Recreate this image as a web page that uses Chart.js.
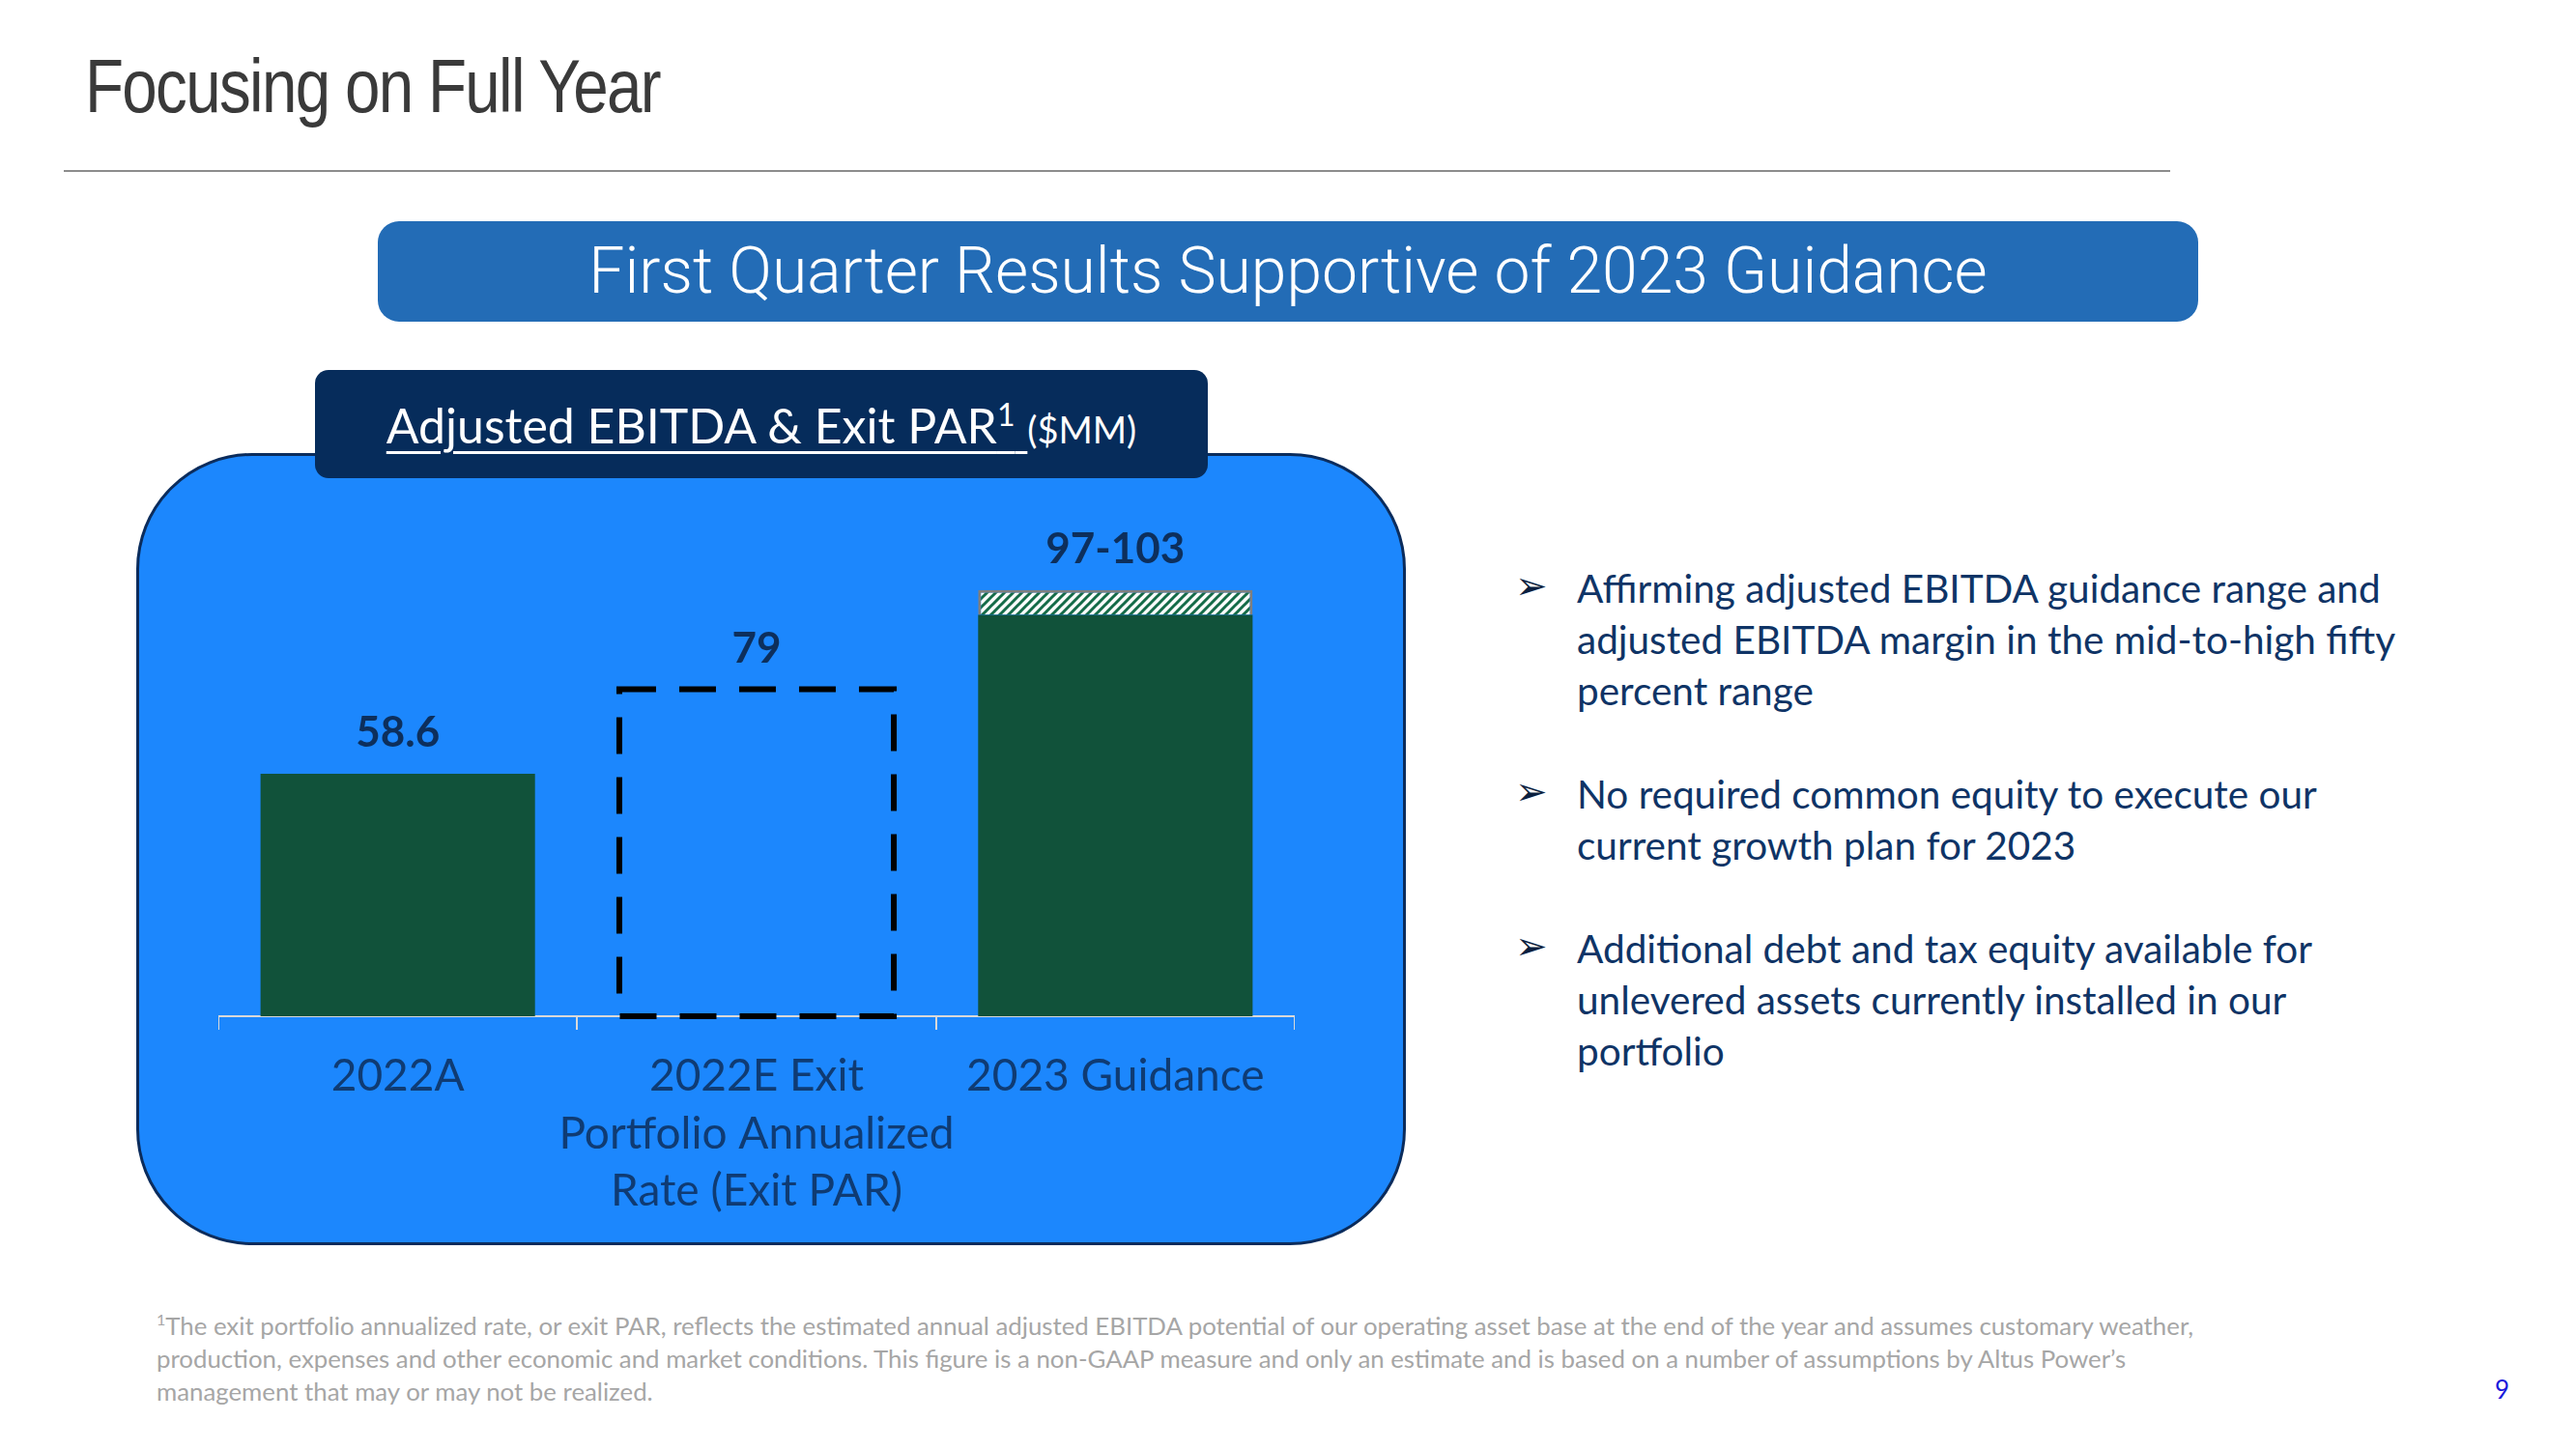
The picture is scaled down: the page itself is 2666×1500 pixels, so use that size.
<!DOCTYPE html>
<html>
<head>
<meta charset="utf-8">
<title>Focusing on Full Year</title>
<script src="https://cdn.jsdelivr.net/npm/chart.js@4.4.1/dist/chart.umd.min.js"></script>
<style>
  body { margin: 0; width: 2666px; height: 1500px; background: #fff; position: relative; overflow: hidden; font-family: Lato, "Open Sans", sans-serif; }
  .titre { position: absolute; left: 88px; top: 44px; font-family: "Liberation Sans Narrow", "Liberation Sans", sans-serif; font-size: 78px; color: #3a3a3a; letter-spacing: -2px; transform: scaleX(0.84); transform-origin: left top; white-space: nowrap; }
  .filet { position: absolute; left: 66px; top: 176px; width: 2180px; height: 2px; background: #8c8c8c; }
  .bandeau { position: absolute; left: 391px; top: 229px; width: 1884px; height: 104px; background: #236cb6; border-radius: 22px; color: #fff; font-family: Roboto, sans-serif; font-weight: 300; font-size: 66px; line-height: 104px; text-align: center; }
  .cadre { position: absolute; left: 141px; top: 469px; width: 1308px; height: 814px; background: #1c87fd; border: 3px solid #0b2c5c; border-radius: 120px; }
  .onglet { position: absolute; left: 326px; top: 383px; width: 924px; height: 112px; background: #062c5b; border-radius: 14px; color: #fff; font-size: 50px; line-height: 92px; text-align: center; }
  .onglet u { text-decoration-thickness: 3px; text-underline-offset: 8px; }
  .onglet sup { font-size: 32px; }
  .onglet small { font-size: 38px; }
  #zone { position: absolute; left: 226px; top: 500px; width: 1114px; height: 782px; }
  .puces { position: absolute; left: 1580px; top: 582px; color: #0f3466; font-size: 40.5px; line-height: 53px; }
  .puce { position: relative; padding-left: 52px; margin-bottom: 54px; }
  .puce span { position: absolute; left: -12px; top: -2px; font-family: "DejaVu Sans", sans-serif; font-size: 40px; font-weight: bold; color: #0b1f3f; }
  .note { position: absolute; left: 162px; top: 1349px; color: #a6a6a6; font-size: 25.8px; line-height: 34px; white-space: nowrap; }
  .note sup { font-size: 16px; }
  .page { position: absolute; left: 2582px; top: 1422px; color: #1a1adb; font-size: 26px; }
</style>
</head>
<body>
<div class="titre">Focusing on Full Year</div>
<div class="filet"></div>
<div class="bandeau">First Quarter Results Supportive of 2023 Guidance</div>
<div class="cadre"></div>
<div class="onglet"><u>Adjusted EBITDA &amp; Exit PAR<sup>1</sup> </u><small>($MM)</small></div>
<div id="zone"><canvas id="graphique"></canvas></div>
<div class="puces">
  <div class="puce"><span>➢</span>Affirming adjusted EBITDA guidance range and<br>adjusted EBITDA margin in the mid-to-high fifty<br>percent range</div>
  <div class="puce"><span>➢</span>No required common equity to execute our<br>current growth plan for 2023</div>
  <div class="puce"><span>➢</span>Additional debt and tax equity available for<br>unlevered assets currently installed in our<br>portfolio</div>
</div>
<div class="note"><sup>1</sup>The exit portfolio annualized rate, or exit PAR, reflects the estimated annual adjusted EBITDA potential of our operating asset base at the end of the year and assumes customary weather,<br>production, expenses and other economic and market conditions. This figure is a non-GAAP measure and only an estimate and is based on a number of assumptions by Altus Power’s<br>management that may or may not be realized.</div>
<div class="page">9</div>

<script>
// Données ($MM)
const categories = [["2022A"], ["2022E Exit", "Portfolio Annualized", "Rate (Exit PAR)"], ["2023 Guidance"]];
const ebitda = [58.6, null, 97];          // barres pleines
const exitPar = [null, 79, null];         // cadre en pointillés
const fourchette = [null, null, 6];       // haut de la fourchette 97-103
const etiquettes = ["58.6", "79", "97-103"];

// Motif hachuré pour la fourchette
function motifHachure() {
  const c = document.createElement("canvas");
  c.width = 9; c.height = 9;
  const ctx = c.getContext("2d");
  ctx.fillStyle = "#ffffff";
  ctx.fillRect(0, 0, 9, 9);
  ctx.strokeStyle = "#146b48";
  ctx.lineWidth = 3;
  ctx.beginPath();
  ctx.moveTo(-2, 11); ctx.lineTo(11, -2);
  ctx.moveTo(-11, 11); ctx.lineTo(2, -2);
  ctx.moveTo(7, 11); ctx.lineTo(20, -2);
  ctx.stroke();
  return ctx.createPattern(c, "repeat");
}

// Plugin : cadre pointillé et étiquettes au-dessus des barres
const dessinsPerso = {
  id: "dessinsPerso",
  afterDatasetsDraw(chart) {
    const ctx = chart.ctx;
    const metaPar = chart.getDatasetMeta(1);
    ctx.save();
    ctx.strokeStyle = "#000000";
    ctx.lineWidth = 6;
    ctx.setLineDash([38, 24]);
    metaPar.data.forEach((barre, i) => {
      if (exitPar[i] == null) return;
      const g = barre.x - barre.width / 2;
      ctx.strokeRect(g, barre.y, barre.width, barre.base - barre.y);
    });
    ctx.setLineDash([]);
    ctx.fillStyle = "#0d2f5c";
    ctx.font = "bold 44px Lato, 'Open Sans', sans-serif";
    ctx.textAlign = "center";
    ctx.textBaseline = "middle";
    for (let i = 0; i < categories.length; i++) {
      let haut = null, x = null;
      chart.data.datasets.forEach((ds, d) => {
        if (ds.data[i] == null) return;
        const el = chart.getDatasetMeta(d).data[i];
        if (haut === null || el.y < haut) { haut = el.y; x = el.x; }
      });
      if (haut !== null) ctx.fillText(etiquettes[i], x, haut - 42);
    }
    ctx.restore();
  }
};

new Chart(document.querySelector("#graphique"), {
  type: "bar",
  data: {
    labels: categories,
    datasets: [
      { label: "Adjusted EBITDA", data: ebitda, backgroundColor: "#11523a", barPercentage: 0.765, categoryPercentage: 1 },
      { label: "Exit PAR", data: exitPar, backgroundColor: "rgba(0,0,0,0)", barPercentage: 0.765, categoryPercentage: 1 },
      { label: "Guidance range", data: fourchette, backgroundColor: motifHachure(), borderColor: "#7f7f7f", borderWidth: 3, barPercentage: 0.765, categoryPercentage: 1 }
    ]
  },
  options: {
    responsive: true,
    maintainAspectRatio: false,
    animation: false,
    layout: { padding: { top: 38, left: 0, right: 0, bottom: 0 } },
    plugins: { legend: { display: false }, tooltip: { enabled: false } },
    scales: {
      x: {
        stacked: true,
        offset: true,
        afterFit: (scale) => { scale.height = 230; },
        grid: { display: true, offset: true, drawOnChartArea: false, tickLength: 14, color: "#d9d9d9", lineWidth: 2 },
        border: { display: true, color: "#d9d9d9", width: 2 },
        ticks: { autoSkip: false, color: "#0f3b73", padding: 18, maxRotation: 0, minRotation: 0, font: { family: "Lato, 'Open Sans', sans-serif", size: 46, lineHeight: 1.3 } }
      },
      y: { stacked: true, display: false, min: 0, max: 120 }
    }
  },
  plugins: [dessinsPerso]
});
</script>
</body>
</html>
